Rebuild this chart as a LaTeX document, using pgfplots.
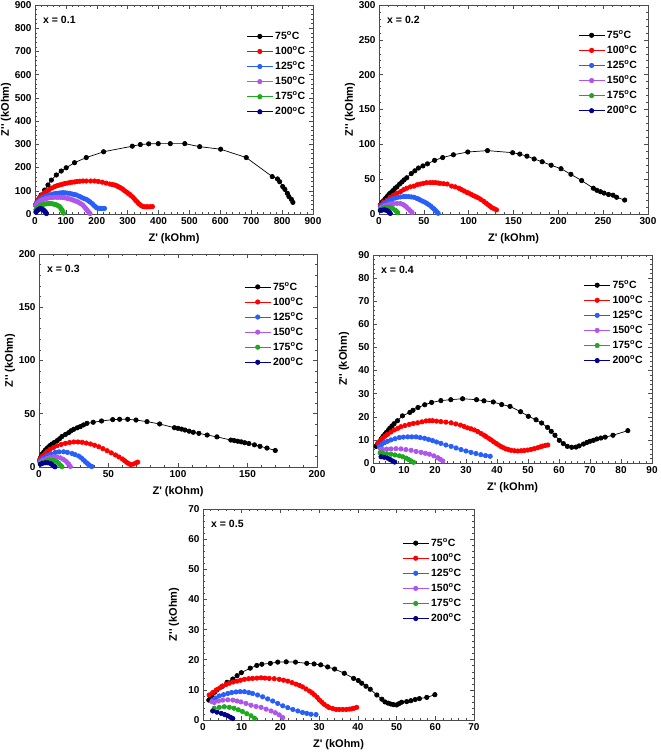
\documentclass[border=0pt]{standalone}
\usepackage{fontspec}
\setmainfont{Liberation Sans}
\usepackage{pgfplots}
\pgfplotsset{compat=1.18}
\definecolor{c75}{RGB}{0,0,0}
\definecolor{c100}{RGB}{255,0,0}
\definecolor{c125}{RGB}{40,95,250}
\definecolor{c150}{RGB}{175,85,235}
\definecolor{c175}{RGB}{30,170,30}
\definecolor{c200}{RGB}{0,0,140}
\newcommand{\dg}{\textsuperscript{o}C}
\tikzset{plab/.style={anchor=west, inner sep=0pt, font=\fontsize{10.5}{12}\selectfont\bfseries, xshift=8pt, yshift=-15pt}}
\pgfplotsset{
  ser/.style={color=#1, mark=*, mark size=2.2pt, line width=0.7pt, mark options={solid, fill=#1, draw=#1}},
  myax/.style={
    scale only axis, xmin=0, ymin=0,
    axis line style={line width=0.6pt, black!70},
    tick align=inside, minor tick num=4,
    major tick length=4pt, minor tick length=2.2pt,
    tick style={black!70, line width=0.5pt},
    /pgf/number format/assume math mode=true,
    ticklabel style={font=\fontsize{10}{11}\selectfont\bfseries},
    xlabel={Z\textquotesingle{} (kOhm)},
    ylabel={Z\textquotesingle\textquotesingle{} (kOhm)},
    every axis x label/.style={at={(axis description cs:0.5,0)}, anchor=center, yshift=-25pt, font=\fontsize{11}{12}\selectfont\bfseries},
    every axis y label/.style={at={(axis description cs:0,0.5)}, rotate=90, anchor=center, yshift=29pt, font=\fontsize{11}{12}\selectfont\bfseries},
    legend cell align=left,
    legend image code/.code={\draw[mark repeat=2,mark phase=2] plot coordinates {(0pt,0pt)(13pt,0pt)(26pt,0pt)};},
    legend style={draw=none, fill=none, anchor=north west, inner sep=0pt, row sep=1.65pt, font=\fontsize{10.5}{12}\selectfont\bfseries, /tikz/every even column/.append style={column sep=0pt}},
    clip=false,
  },
}
\begin{document}
\begin{tikzpicture}
\useasboundingbox (0,0) rectangle (661pt,753pt);
% ---------------- x = 0.1
\begin{axis}[myax, at={(35pt,539pt)}, anchor=south west, width=278pt, height=209pt,
  xmax=900, ymax=900, xtick distance=100, ytick distance=100,
  legend style={at={(0.76,0.883)}}]
\addplot[ser=c75] coordinates {(2,39)(10,60)(20,82)(31,103)(42,125)(53,146)(69,168)(85,185)(101,199)(128,221)(166,243)(222,268)(315,292)(341,299)(368,302)(399,303)(438,303)(485,303)(533,290)(601,279)(684,243)(768,161)(785,151)(792,139)(802,118)(809,106)(817,89)(822,75)(830,63)(835,50)};
\addplot[ser=c100] coordinates {(2,40)(6,52)(10,62)(15,72)(22,82)(31,92)(39,99)(47,106)(55,112)(64,118)(72,122)(80,125)(88,128)(96,131)(104,133)(112,135)(120,137)(128,138)(136,140)(145,141)(155,142)(166,142)(180,142)(193,142)(205,140)(218,137)(230,133)(242,129)(250,127)(258,125)(264,122)(269,118)(274,115)(279,111)(285,106)(290,100)(296,95)(301,89)(307,84)(312,78)(318,71)(323,63)(328,56)(333,49)(338,42)(344,36)(350,32)(355,31)(361,31)(366,31)(373,31)(380,32)};
\addplot[ser=c125] coordinates {(2,38)(6,46)(10,53)(15,60)(20,66)(26,72)(33,76)(40,79)(47,82)(55,85)(62,87)(69,89)(77,90)(84,91)(91,92)(98,91)(105,90)(112,89)(120,86)(127,84)(134,82)(142,77)(150,72)(158,67)(166,63)(172,58)(177,53)(183,47)(188,41)(193,34)(198,28)(203,25)(209,24)(215,24)(220,24)(225,24)};
\addplot[ser=c150] coordinates {(3,35)(7,44)(12,51)(17,56)(22,60)(28,63)(34,66)(40,68)(47,70)(54,71)(61,72)(69,72)(76,72)(83,72)(90,71)(96,70)(103,68)(109,66)(115,64)(121,61)(127,58)(133,55)(139,52)(144,48)(150,43)(155,38)(160,31)(164,24)(168,18)(171,12)(175,6)(178,2)};
\addplot[ser=c175] coordinates {(3,18)(6,25)(10,30)(15,35)(20,38)(26,41)(32,43)(38,44)(44,45)(50,45)(56,44)(62,42)(68,40)(73,37)(78,33)(82,28)(85,22)(88,16)(90,10)(92,4)};
\addplot[ser=c200] coordinates {(3,8)(6,13)(9,17)(12,20)(15,22)(18,23)(21,22)(24,20)(27,18)(30,14)(33,10)(35,6)(37,2)};
\legend{75\dg,100\dg,125\dg,150\dg,175\dg,200\dg}
\node[plab] at (rel axis cs:0,1) {x = 0.1};
\end{axis}
% ---------------- x = 0.2
\begin{axis}[myax, at={(379pt,539pt)}, anchor=south west, width=269pt, height=209pt,
  xmax=300, ymax=300, xtick distance=50, ytick distance=50,
  legend style={at={(0.74,0.888)}}]
\addplot[ser=c75] coordinates {(1.5,13)(3,16)(5,19)(7,22)(9,25)(11,28)(12.6,30)(14.5,32)(16,34)(18,37)(20,39)(23,43)(25.6,46)(28,49)(31,52)(36,58)(40,62)(44,66)(49,69)(54,72)(62,77)(71,81)(83,85)(99,89)(121,91)(149,88)(157,86)(165,83)(173,79)(182,75)(192,70)(203,65)(214,57)(226,48)(239,37)(243,34)(247,32)(251,30)(256,28)(261,27)(265,24)(274,20)};
\addplot[ser=c100] coordinates {(1.5,13)(5,17)(9,20)(12.5,24)(16,27)(20,30)(24,32)(27.5,35)(31,37)(35,39)(39,40)(42.5,42)(46,43)(49.5,44)(53,45)(57,45)(60,45)(63,45)(66,44.5)(68,44)(72,43.5)(76,43)(81,40)(85,39)(89,37)(92,35)(95,33)(98,31)(100,30)(103,28)(106,26)(108.5,24.5)(111,23)(114,20.5)(117,18)(119.5,15.5)(122,13)(124,11)(126,9)(128.5,7.5)(131,6)};
\addplot[ser=c125] coordinates {(1.5,10.5)(3.5,13)(6,15.5)(9,18)(12,20)(15,21.5)(18,23)(21,24)(24,24.5)(27.5,25)(30,25)(33,25)(36,24.5)(39,24)(42,22.5)(44,21.5)(46,20)(48.5,18.5)(51,17)(53.5,15)(56,13)(58,11)(60,8.5)(61.5,7)(63,5)(64.5,3)(66,1)};
\addplot[ser=c150] coordinates {(1.5,8)(3.5,10)(6,12)(9,13)(12,14.5)(16,15)(20,15.2)(24,15)(27,13.5)(29.4,11.5)(31,9.5)(33,7)(35,4.5)(36.8,2.3)};
\addplot[ser=c175] coordinates {(1.5,6.5)(4,8)(7,9.4)(10,9.6)(12.6,9.4)(15,8.3)(18,5.5)(19.5,3.8)(20.8,2)};
\addplot[ser=c200] coordinates {(1.5,5)(3.5,5.6)(6,6)(8,5.4)(10,4.2)(11.5,2.5)(12.6,0.8)};
\legend{75\dg,100\dg,125\dg,150\dg,175\dg,200\dg}
\node[plab] at (rel axis cs:0,1) {x = 0.2};
\end{axis}
% ---------------- x = 0.3
\begin{axis}[myax, at={(39pt,286pt)}, anchor=south west, width=278pt, height=213pt,
  xmax=200, ymax=200, xtick distance=50, ytick distance=50,
  legend style={at={(0.738,0.878)}}]
\addplot[ser=c75] coordinates {(0.5,6)(1.2,9)(2.2,12)(3.4,14)(4.6,16)(5.8,17.5)(7,19)(8.2,20.5)(9.4,21.6)(11,23)(13,24.7)(14.8,26.5)(16.5,28.6)(19,30.5)(21.3,32.2)(23,34)(25,35.4)(27.5,36.8)(29.7,37.9)(32,39.5)(34.5,41)(39,42)(45,43.2)(53,44.5)(58,44.8)(63.8,44.8)(69.8,44.1)(77.7,42.6)(86.8,40.4)(97.4,36.9)(100,36.3)(102.5,35.6)(105,34.7)(108,33.6)(111,32.6)(115,31.6)(121,30)(128,28.3)(138,25.3)(140.5,24.8)(143,24.2)(145.5,23.6)(148,22.8)(151,22)(155,20.8)(159,19.4)(164,17.8)(170,15.5)};
\addplot[ser=c100] coordinates {(0.5,7)(1,8)(2.5,10.5)(4.5,12.8)(6,14.8)(8,16.6)(10.5,18.4)(13,20)(16,21.2)(19,22.2)(22,23)(25,23.5)(28,23.5)(31,23.2)(34,22.5)(37,21.6)(40,20.4)(43,19)(46,17.2)(49,15.3)(52,13.3)(55,11.3)(57.5,9.4)(60,7.5)(61.5,6)(63,4.4)(64.5,3.2)(66,2.2)(68,2.8)(70,4)(71,4.6)};
\addplot[ser=c125] coordinates {(0.5,5)(1,6)(3,8.5)(5.7,11)(8.5,12.5)(11.7,13.7)(14.5,14.2)(17.7,14.3)(20.5,13.7)(23.7,12.7)(26,11.6)(28.5,10.3)(30.5,8.5)(32,6.6)(33.3,5)(34.5,3.5)(35.8,2.2)(37,1)(38,0.5)};
\addplot[ser=c150] coordinates {(1,4.8)(3,6.5)(5.7,8)(8,9)(10.6,9.6)(13,9.4)(15.4,8.6)(17.3,7.3)(19,5.8)(20.3,4.2)(21.3,2.7)(22.5,0.5)};
\addplot[ser=c175] coordinates {(1,3.2)(2.2,4)(4,5)(5.7,5.8)(7.5,6.2)(9.3,6.4)(11,5.9)(13,4.9)(14.3,3.3)(15.4,1.7)(16.5,0.3)};
\addplot[ser=c200] coordinates {(1,2.6)(2.5,3.4)(4.5,4)(6.3,4)(8.1,3.4)(9.5,2.2)(10.6,0.9)(11.5,0.2)};
\legend{75\dg,100\dg,125\dg,150\dg,175\dg,200\dg}
\node[plab] at (rel axis cs:0,1) {x = 0.3};
\end{axis}
% ---------------- x = 0.4
\begin{axis}[myax, at={(373pt,290pt)}, anchor=south west, width=279pt, height=208pt,
  xmax=90, ymax=90, xtick distance=10, ytick distance=10,
  legend style={at={(0.755,0.888)}}]
\addplot[ser=c75] coordinates {(1,7.2)(1.6,8.3)(2.2,9.4)(2.7,10.5)(3.2,11.5)(3.8,12.4)(4.3,13.2)(4.9,14.1)(5.4,15)(6.1,16)(6.8,17)(7.9,18.3)(9.5,20.4)(11.9,21.9)(12.9,22.8)(14.5,24)(16.7,25.2)(18.9,26.2)(21.9,27)(25.1,27.4)(28.9,27.8)(33.4,27.4)(35.8,26.9)(38.8,26.4)(41.5,25.3)(44.2,24.5)(47.6,22.2)(50.1,20.2)(52.6,18.7)(54.4,17.3)(56.3,15.4)(57.5,13.7)(58.7,12)(60.1,9.8)(61.4,8.4)(62.7,7.2)(64.1,6.8)(65.5,6.9)(66.5,7.4)(67.9,8.2)(69,8.9)(70,9.4)(71.1,9.8)(72.2,10.4)(73.5,10.8)(74.9,11.2)(77.4,12)(82.2,14)};
\addplot[ser=c100] coordinates {(1.5,8.5)(2.3,9.6)(3.1,10.7)(3.9,11.6)(4.7,12.4)(5.8,13.4)(6.9,14.3)(8,15)(9,15.7)(10.3,16.2)(11.7,16.7)(13,17.1)(14.4,17.4)(15.8,17.8)(17.1,18.2)(18.2,18.3)(19.2,18.3)(20.5,18.1)(21.9,17.9)(23.5,17.7)(25.2,17.4)(26.7,16.9)(28.2,16.4)(29.4,15.8)(30.5,15.2)(31.6,14.8)(32.7,14.3)(33.8,13.6)(34.8,12.8)(35.7,12.1)(36.5,11.4)(37.3,10.7)(38.1,10)(38.9,9.2)(39.7,8.5)(40.5,7.8)(41.3,7.1)(42.1,6.6)(42.9,6.1)(43.7,5.8)(44.5,5.5)(45.6,5.3)(46.7,5.2)(47.8,5.3)(48.8,5.4)(49.9,5.6)(51,5.9)(52,6.2)(53.1,6.6)(54,7)(54.7,7.3)(55.6,7.6)(56.4,7.8)};
\addplot[ser=c125] coordinates {(2,7.1)(2.8,8)(3.7,8.8)(4.7,9.4)(5.8,10)(7.1,10.5)(8.5,11)(9.8,11.2)(11.2,11.3)(12.5,11.3)(13.9,11.3)(15.2,11)(16.6,10.7)(17.9,10.2)(19.2,9.7)(20.5,9.1)(21.9,8.5)(23.5,7.8)(25.2,7.2)(26.8,6.5)(28.4,5.8)(30,5.2)(31.6,4.6)(33.2,4.1)(34.8,3.6)(36.3,3.2)(37.8,2.9)};
\addplot[ser=c150] coordinates {(2.5,6)(3.1,5.9)(4.4,6)(5.8,6.1)(7.4,6.2)(9,6.1)(10.6,5.8)(12.3,5.5)(13.9,5)(15.5,4.6)(16.9,4.2)(18.2,3.8)(19.6,3.1)(20.9,2.3)(21.7,1.6)(22.5,0.9)};
\addplot[ser=c175] coordinates {(2.3,4.4)(3.1,4.3)(4.4,4)(5.8,3.8)(7.1,3.5)(8.5,3.1)(9.6,2.7)(10.7,2.1)(11.5,1.5)(12.3,0.9)(13.1,0.3)};
\addplot[ser=c200] coordinates {(2.6,2.7)(3.6,2.5)(4.7,2.1)(5.5,1.5)(6.3,0.9)(7,0.4)};
\legend{75\dg,100\dg,125\dg,150\dg,175\dg,200\dg}
\node[plab] at (rel axis cs:0,1) {x = 0.4};
\end{axis}
% ---------------- x = 0.5
\begin{axis}[myax, at={(203pt,33pt)}, anchor=south west, width=271pt, height=211pt,
  xmax=70, ymax=70, xtick distance=10, ytick distance=10,
  legend style={at={(0.735,0.871)}}]
\addplot[ser=c75] coordinates {(1.5,6.6)(1.9,7.4)(2.3,8.3)(3,9.2)(3.6,10)(4.9,11.1)(6.2,12.5)(7.7,13.6)(8.8,14.7)(9.9,15.7)(12.2,17.2)(13.9,18.1)(15.2,18.5)(17.4,18.8)(19.3,19.2)(21.5,19.3)(23.9,19.2)(26.8,18.8)(28.7,18.6)(30.4,18.3)(32.2,17.6)(34,16.9)(36.5,15.5)(38.9,13.8)(40.1,13.1)(41,12.2)(42.1,11.2)(43.2,10.2)(44.9,8.3)(46.2,6.9)(47,6)(47.8,5.6)(48.5,5.3)(49.2,5.1)(50,5)(50.6,5.4)(51.3,5.9)(52.6,6.1)(53.7,6.4)(54.8,6.8)(55.9,7.1)(57.8,7.5)(59.9,8.4)};
\addplot[ser=c100] coordinates {(1.6,8.3)(2.5,9.1)(3.4,9.9)(4.3,10.6)(5.1,11.3)(6,11.8)(6.8,12.2)(7.8,12.6)(8.8,12.9)(9.7,13.2)(10.7,13.5)(11.8,13.7)(12.8,13.8)(13.9,13.9)(15,14)(16,13.9)(17.1,13.8)(18.4,13.7)(19.7,13.5)(20.8,13.2)(21.9,12.9)(23,12.4)(24,11.9)(24.9,11.5)(25.7,11)(26.6,10.3)(27.5,9.6)(28.2,9)(28.8,8.3)(29.5,7.5)(30.1,6.6)(30.7,5.9)(31.3,5.2)(32,4.6)(32.6,4.1)(33.5,3.8)(34.4,3.5)(35.2,3.5)(36.1,3.5)(37,3.5)(37.8,3.6)(38.4,3.7)(39,3.9)(39.7,4.2)};
\addplot[ser=c125] coordinates {(2.5,6.6)(3.3,7.3)(4.2,8)(5.3,8.4)(6.4,8.8)(7.4,9.1)(8.5,9.3)(9.6,9.4)(10.7,9.4)(11.8,9.1)(12.8,8.8)(14.1,8.3)(15.4,7.7)(16.7,7)(18,6.3)(19.3,5.5)(20.6,4.7)(21.9,4.1)(23.2,3.5)(24.5,3)(25.7,2.5)(26.8,2.2)(27.9,1.9)(29.2,1.8)};
\addplot[ser=c150] coordinates {(2.3,6.1)(2.9,5.8)(4,6.3)(5.1,6.6)(6.4,6.7)(7.7,6.6)(8.8,6.3)(9.8,6)(11.1,5.5)(12.4,4.9)(13.7,4.5)(15,4.2)(16.3,3.6)(17.6,3)(18.7,2.4)(19.7,1.7)(20.6,0.8)};
\addplot[ser=c175] coordinates {(2.9,3.9)(4.2,4.2)(5.5,4.4)(6.8,4.2)(8,3.9)(9.1,3.4)(10.2,2.8)(11.3,2.1)(12.4,1.4)(13.3,0.6)};
\addplot[ser=c200] coordinates {(2.5,3)(3.6,2.6)(4.7,2.2)(5.6,1.8)(6.4,1.4)(7.1,0.9)(7.7,0.5)};
\legend{75\dg,100\dg,125\dg,150\dg,175\dg,200\dg}
\node[plab] at (rel axis cs:0,1) {x = 0.5};
\end{axis}
\end{tikzpicture}
\end{document}
